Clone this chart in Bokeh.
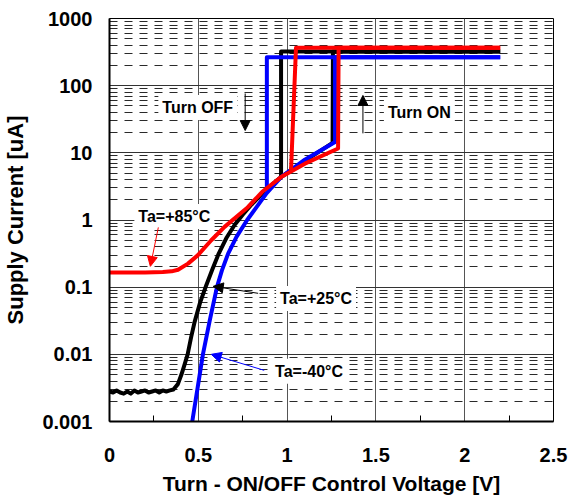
from bokeh.plotting import figure
from bokeh.models import FixedTicker, Label, Arrow, NormalHead, PrintfTickFormatter, Range1d
from bokeh.embed import file_html
from bokeh.resources import INLINE

# ---------------- data ----------------
x_ticks = [0, 0.5, 1, 1.5, 2, 2.5]
x_minor = [0.25, 0.75, 1.25, 1.75, 2.25]
y_ticks = [0.001, 0.01, 0.1, 1, 10, 100, 1000]
y_minor = [m * 10.0 ** e for e in range(-3, 3) for m in range(2, 10)]

# Ta = +25 C (black) : rising voltage (turn ON)
v25_on = [0.00, 0.02, 0.04, 0.06, 0.08, 0.10, 0.12, 0.14, 0.16, 0.18, 0.20, 0.22,
          0.24, 0.26, 0.28, 0.30, 0.32, 0.34, 0.36, 0.385, 0.405, 0.423, 0.44,
          0.46, 0.479, 0.51, 0.545, 0.58, 0.615, 0.66, 0.705, 0.75, 0.80, 0.88,
          0.966, 1.10, 1.256, 1.258, 2.2]
i25_on = [0.0028, 0.0027, 0.0029, 0.0027, 0.0026, 0.0028, 0.0026, 0.0029, 0.0027,
          0.0028, 0.0029, 0.0027, 0.0028, 0.0029, 0.0027, 0.0029, 0.0028, 0.0029,
          0.0030, 0.0036, 0.0050, 0.0071, 0.010, 0.0182, 0.0302, 0.0589, 0.107,
          0.186, 0.316, 0.55, 0.851, 1.20, 1.70, 2.82, 4.35, 7.6, 14.1, 322, 322]
# Ta = +25 C (black) : falling voltage (turn OFF)
v25_off = [2.2, 0.966, 0.966]
i25_off = [322, 322, 4.35]

# Ta = -40 C (blue)
vm40_on = [0.466, 0.526, 0.564, 0.605, 0.633, 0.668, 0.715, 0.775, 0.83, 0.885,
           0.966, 1.10, 1.27, 1.27, 2.2]
im40_on = [0.001, 0.01, 0.0316, 0.1, 0.178, 0.316, 0.562, 1.0, 1.58, 2.51, 4.35,
           7.9, 14.5, 265, 265]
vm40_off = [2.2, 0.886, 0.886]
im40_off = [265, 265, 2.55]

# Ta = +85 C (red)
v85_on = [0.0, 0.10, 0.20, 0.30, 0.35, 0.386, 0.442, 0.498, 0.573, 0.648, 0.72,
          0.779, 0.86, 0.966, 1.10, 1.287, 1.29, 2.2]
i85_on = [0.166, 0.166, 0.166, 0.168, 0.172, 0.182, 0.224, 0.30, 0.50, 0.79, 1.15,
          1.55, 2.63, 4.35, 6.9, 11.6, 366, 366]
v85_off = [2.2, 1.05, 1.022]
i85_off = [366, 366, 5.4]

# ---------------- figure ----------------
FONT = "Liberation Sans"

p = figure(width=570, height=497, x_range=Range1d(0, 2.5), y_range=Range1d(0.001, 1000),
           y_axis_type="log", output_backend="svg", toolbar_location=None,
           min_border_left=108, min_border_right=17, min_border_top=18,
           min_border_bottom=76)
p.background_fill_color = "white"
p.border_fill_color = "white"
p.outline_line_color = "black"
p.outline_line_width = 1

# axes
p.xaxis.ticker = FixedTicker(ticks=x_ticks, minor_ticks=x_minor)
p.xaxis.formatter = PrintfTickFormatter(format="%g")
p.yaxis.ticker = FixedTicker(ticks=y_ticks, minor_ticks=[])
p.yaxis.formatter = PrintfTickFormatter(format="%g")

for ax in (p.xaxis, p.yaxis):
    ax.axis_line_color = "black"
    ax.axis_line_width = 2
    ax.major_tick_in = 0
    ax.major_tick_out = 0
    ax.major_label_text_font = FONT
    ax.major_label_text_font_style = "bold"
    ax.major_label_text_font_size = "20px"
    ax.major_label_text_color = "black"
    ax.axis_label_text_font = FONT
    ax.axis_label_text_font_style = "bold"
    ax.axis_label_text_color = "black"

p.xaxis.minor_tick_in = 6
p.xaxis.minor_tick_out = 0
p.xaxis.minor_tick_line_color = "black"
p.yaxis.minor_tick_in = 0
p.yaxis.minor_tick_out = 0

p.xaxis.major_label_standoff = 26
p.xaxis.axis_label = "Turn - ON/OFF Control Voltage [V]"
p.xaxis.axis_label_text_font_size = "21px"
p.xaxis.axis_label_standoff = 7

p.yaxis.major_label_standoff = 17
p.yaxis.axis_label = "Supply Current [uA]"
p.yaxis.axis_label_text_font_size = "22px"
p.yaxis.axis_label_standoff = 11

# grids
p.xgrid.ticker = FixedTicker(ticks=x_ticks)
p.xgrid.grid_line_color = "#555555"
p.xgrid.grid_line_width = 1
p.ygrid.ticker = FixedTicker(ticks=y_ticks, minor_ticks=y_minor)
p.ygrid.grid_line_color = "#333333"
p.ygrid.grid_line_width = 1
p.ygrid.minor_grid_line_color = "#2a2a2a"
p.ygrid.minor_grid_line_width = 1
p.ygrid.minor_grid_line_dash = "8 7"

# curves
LW = 4
p.line(v25_on, i25_on, line_color="black", line_width=LW, line_join="round")
p.line(v25_off, i25_off, line_color="black", line_width=LW, line_join="round")
p.line(vm40_on, im40_on, line_color="#0000ff", line_width=LW, line_join="round")
p.line(vm40_off, im40_off, line_color="#0000ff", line_width=LW, line_join="round")
p.line(v85_on, i85_on, line_color="#ff0000", line_width=LW, line_join="round")
p.line(v85_off, i85_off, line_color="#ff0000", line_width=LW, line_join="round")


def add_label(x, y, text):
    p.add_layout(Label(x=x, y=y, text=text, text_font=FONT, text_font_style="bold",
                       text_font_size="16px", text_color="black", text_baseline="middle",
                       text_align="left", background_fill_color="white",
                       background_fill_alpha=1.0, padding=4))


def add_arrow(x0, y0, x1, y1, color):
    p.add_layout(Arrow(end=NormalHead(size=10, fill_color=color, line_color=color),
                       x_start=x0, y_start=y0, x_end=x1, y_end=y1,
                       line_color=color, line_width=1))


add_label(0.275, 47.4, "Turn OFF")
add_label(1.545, 39.9, "Turn ON")
add_label(0.14, 1.13, "Ta=+85°C")
add_label(0.938, 0.068, "Ta=+25°C")
add_label(0.910, 0.00559, "Ta=-40°C")

add_arrow(0.764, 76.5, 0.764, 21.5, "black")
add_arrow(1.427, 19.5, 1.427, 71.5, "black")
add_arrow(0.275, 0.776, 0.230, 0.204, "#ff0000")
add_arrow(0.837, 0.081, 0.584, 0.103, "black")
add_arrow(0.871, 0.00578, 0.573, 0.01, "#0000ff")

open("out.html", "w").write(file_html(p, INLINE))
